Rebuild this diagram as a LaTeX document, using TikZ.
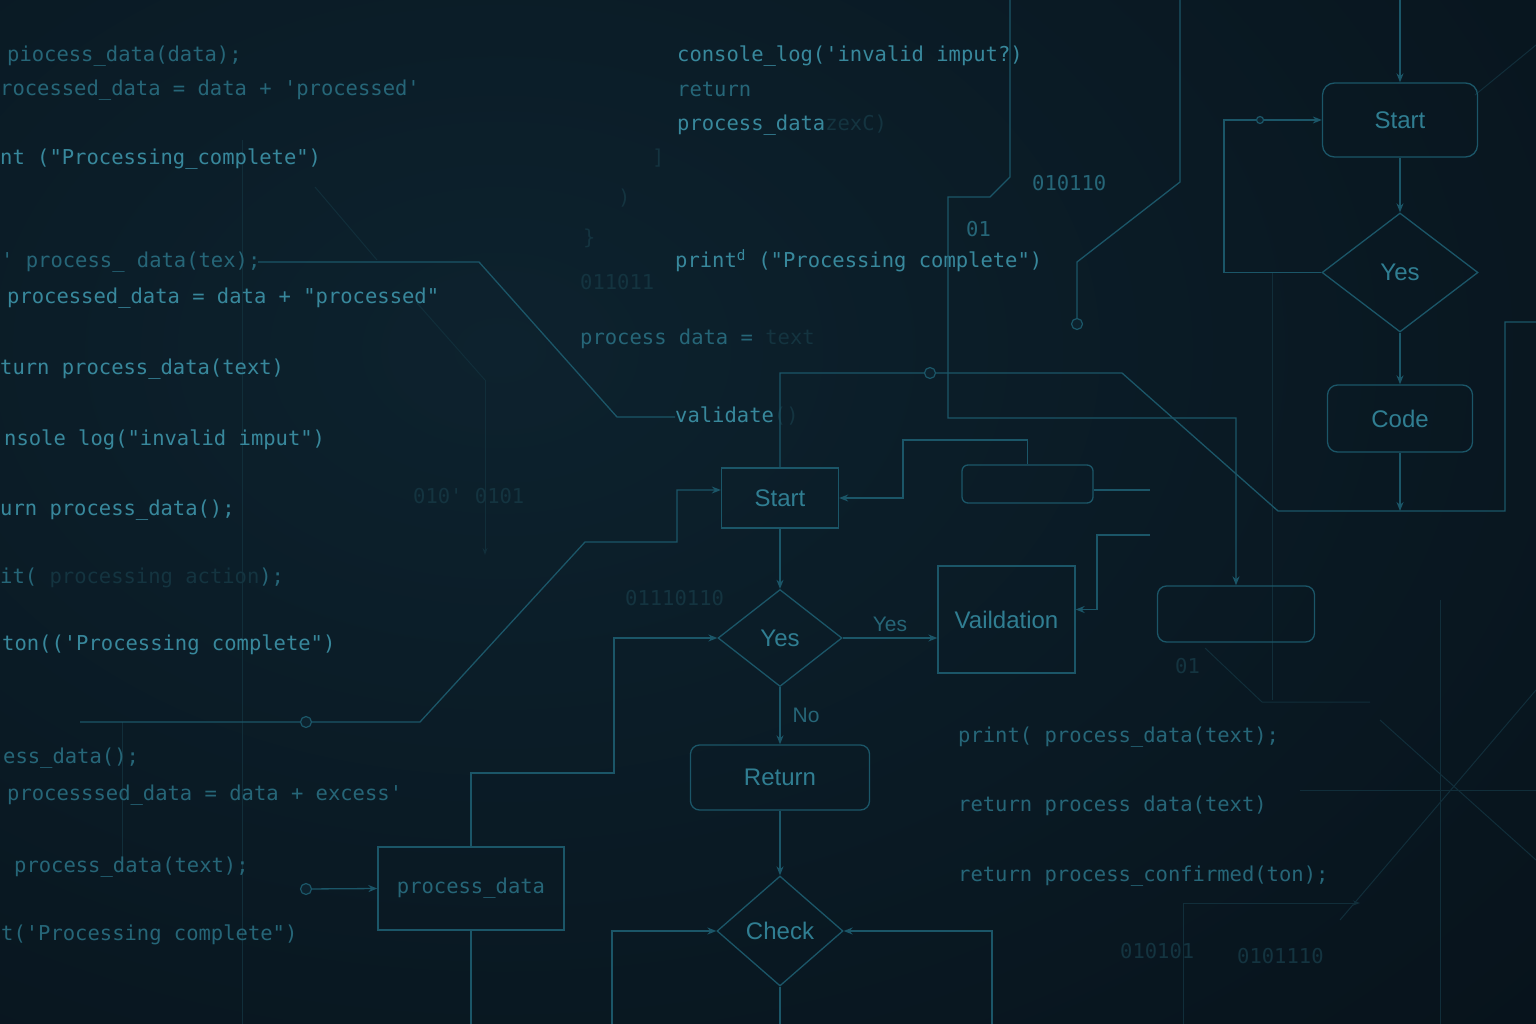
\documentclass[tikz,border=0pt]{standalone}
\usepackage{fontspec}
\setmonofont{DejaVu Sans Mono}
\newfontfamily\flowfont{Liberation Sans}
\usetikzlibrary{shapes.geometric, arrows.meta, positioning, calc}

\definecolor{bgmid}{RGB}{13,34,46}
\definecolor{bgmix}{RGB}{8,21,30}
\definecolor{bgedge}{RGB}{4,10,15}
\definecolor{wire}{RGB}{27,86,104}
\definecolor{wirefaint}{RGB}{17,46,58}
\definecolor{codehi}{RGB}{56,136,156}
\definecolor{codemid}{RGB}{38,102,120}
\definecolor{codelow}{RGB}{20,52,64}
\definecolor{flowtext}{RGB}{48,126,146}

\pgfdeclareradialshading{bgglow}{\pgfpoint{0bp}{0bp}}{color(0bp)=(bgmid); color(25bp)=(bgmix); color(50bp)=(bgedge)}

\newcommand\codesize{\fontsize{20.5}{24}\selectfont}
\newcommand\flowsize{\fontsize{24}{28}\selectfont}
\newcommand\lblsize{\fontsize{21}{24}\selectfont}

\tikzset{
  code/.style={anchor=west, inner sep=0pt, font=\ttfamily\codesize, text=codehi, text height=15pt, text depth=5pt},
  wireline/.style={draw=wire, line width=1.3pt},
  faint/.style={draw=wirefaint, line width=1pt},
  flow/.style={wireline, -{Stealth[length=9pt, width=7pt]}},
  box/.style={draw=wire, line width=1.3pt, text=flowtext, font=\flowfont\flowsize, inner sep=0pt},
  roundbox/.style={box, rounded corners=9pt},
  decision/.style={box, diamond, aspect=1.3},
  dot/.style={circle, draw=wire, line width=1.2pt, fill=bgmid, minimum size=11pt, inner sep=0pt},
  lbl/.style={text=codemid, font=\flowfont\lblsize, inner sep=4pt}
}

\begin{document}
\begin{tikzpicture}[x=1pt, y=-1pt]
  \useasboundingbox (0,0) rectangle (1536,1024);
  \clip (0,0) rectangle (1536,1024);
  \fill[bgedge] (0,0) rectangle (1536,1024);
  \shade[shading=bgglow] (-700,-500) rectangle (1700,1200);

  % faint wires in the back
  \draw[faint] (242,140) -- (242,1024);
  \draw[faint] (122,722) -- (122,860);
  \draw[faint] (315,187) -- (377,260);
  \draw[faint] (417,303) -- (485,380);
  \draw[faint, -{Stealth[length=7pt, width=5pt]}] (485,380) -- (485,555);
  \draw[faint] (1272,272) -- (1272,700);
  \draw[faint] (1205,648) -- (1262,702) -- (1370,702);
  \draw[faint] (1380,720) -- (1536,860);
  \draw[faint] (1536,690) -- (1340,920);
  \draw[faint] (1300,790) -- (1536,790);
  \draw[faint] (1440,600) -- (1440,1024);
  \draw[faint, -{Stealth[length=7pt, width=5pt]}] (1183,1024) -- (1183,903) -- (1360,903);
  \draw[faint] (1475,95) -- (1536,45);

  % code on the left
  \node[code, text=codemid] (l1) at (7,57) {piocess\_data(data);};
  \node[code, text=codemid] (l2) at (0,91) {rocessed\_data = data + 'processed'};
  \node[code] (l3) at (0,160) {nt ("Processing\_complete")};
  \node[code, text=codemid] (l4) at (1,263) {' process\_ data(tex);};
  \node[code] (l5) at (7,298) {processed\_data = data + "processed"};
  \node[code] (l6) at (0,369) {turn process\_data(text)};
  \node[code] (l7) at (4,440) {nsole log("invalid  imput")};
  \node[code] (l8) at (0,510) {urn  process\_data();};
  \node[code, text=codemid] (l9) at (0,578) {it( {\color{codelow}processing action});};
  \node[code] (l10) at (2,645) {ton(('Processing complete")};
  \node[code, text=codemid] (l11) at (3,758) {ess\_data();};
  \node[code, text=codemid] (l12) at (7,795) {processsed\_data = data + excess'};
  \node[code, text=codemid] (l13) at (14,867) {process\_data(text);};
  \node[code, text=codemid] (l14) at (1,935) {t('Processing  complete")};

  % code at the top
  \node[code] (m1) at (677,57) {console\_log('invalid imput?)};
  \node[code, text=codemid] (m2) at (677,92) {return};
  \node[code] (m3) at (677,126) {process\_data{\color{codelow}zexC)}};
  \node[code] (m4) at (675,263) {print\textsuperscript{d} ("Processing complete")};
  \node[code, text=codemid] (m5) at (580,339) {process data  = {\color{codelow}text}};
  \node[code] (vld) at (675,417) {validate{\color{codelow}()}};
  \node[code, text=codelow] (b1) at (652,160) {]};
  \node[code, text=codelow] (b2) at (618,200) {)};
  \node[code, text=codelow] (b3) at (583,240) {\}};

  % code at the bottom right
  \node[code, text=codemid] (r1) at (958,737) {print( process\_data(text);};
  \node[code, text=codemid] (r2) at (958,806) {return process data(text)};
  \node[code, text=codemid] (r3) at (958,876) {return process\_confirmed(ton);};

  % bits
  \node[code, text=codemid] (n1) at (1032,186) {010110};
  \node[code, text=codemid] (n2) at (966,232) {01};
  \node[code, text=codelow] (n3) at (580,285) {011011};
  \node[code, text=codelow] (n4) at (625,600) {01110110};
  \node[code, text=codelow] (n5) at (413,498) {010' 0101};
  \node[code, text=codelow] (n6) at (1120,953) {010101};
  \node[code, text=codelow] (n7) at (1237,958) {0101110};
  \node[code, text=codelow] (n8) at (1175,668) {01};

  % middle flowchart
  \node[box, minimum width=117pt, minimum height=60pt] (start) at (780,498) {Start};
  \node[decision, minimum width=124pt, minimum height=97pt] (ask) at (780,638) {Yes};
  \node[box, minimum width=137pt, minimum height=107pt] (valid) at (1006.5,619.5) {Vaildation};
  \node[roundbox, minimum width=179pt, minimum height=65pt] (ret) at (780,777.5) {Return};
  \node[decision, minimum width=126pt, minimum height=110pt] (check) at (780,931) {Check};
  \node[box, font=\ttfamily\codesize, text=codemid, minimum width=186pt, minimum height=83pt] (pdata) at (471,888.5) {process\_data};
  \node[roundbox, rounded corners=6pt, minimum width=131pt, minimum height=38pt] (blank1) at (1027.5,484) {};
  \node[roundbox, minimum width=157pt, minimum height=56pt] (blank2) at (1236,614) {};

  % right flowchart
  \node[roundbox, rounded corners=12pt, minimum width=155pt, minimum height=74pt] (rstart) at (1400,120) {Start};
  \node[decision, minimum width=156pt, minimum height=119pt] (rask) at (1400,272.5) {Yes};
  \node[roundbox, rounded corners=10pt, minimum width=145pt, minimum height=67pt] (code) at (1400,418.5) {Code};

  \node[dot] (d1) at (306,889) {};
  \node[dot] (d2) at (306,722) {};
  \node[dot] (d3) at (930,373) {};
  \node[dot] (d5) at (1077,324) {};
  \node[dot, minimum size=7pt] (d4) at (1260,120) {};

  \coordinate (w1) at (80,722);
  \coordinate (w2) at (258,262);
  \coordinate (cb) at (780,1030);
  \coordinate (cl) at (612,1030);
  \coordinate (cr) at (992,1030);
  \coordinate (pb) at (471,1030);
  \coordinate (rr) at (1540,322);
  \coordinate (cj) at (1400,511);
  \coordinate (rt) at (1400,-5);
  \coordinate (t1) at (1010,-5);
  \coordinate (t2) at (1180,-5);
  \coordinate (v1) at (1150,535);
  \coordinate (b1r) at (1150,490);

  \draw[flow] (start) -- (ask);
  \draw[flow] (ask.east) -- node[lbl, above=2pt] (yeslbl) {Yes} (ask.east -| valid.west);
  \draw[flow] (ask) -- node[lbl, right=8pt] (nolbl) {No} (ret);
  \draw[flow] (ret) -- (check);
  \draw[wireline] (check.south) -- (cb);
  \draw[flow] (cl) |- (check.west);
  \draw[flow] (cr) |- (check.east);
  \draw[flow] (pdata.north) |- (614,773) |- (ask.west);
  \draw[wireline] (pdata.south) -- (pb);
  \draw[flow] (d1) -- (pdata.west);
  \draw[flow] (w1) -- (d2) -- (420,722) -- (585,542) -- (677,542) |- ([yshift=8pt]start.west);
  \draw[wireline] (start.north) -- (780,373) -- (d3) -- (1122,373) -- (1278,511) -- (1505,511) -- (1505,322) -- (rr);
  \draw[wireline] (w2) -- (479,262) -- (617,417) -- (vld.west);
  \draw[flow] (blank1.north) |- (903,440) |- (start.east);
  \draw[wireline] ([yshift=-6pt]blank1.east) -- (b1r);
  \draw[flow] (v1) -- (1097,535) |- ([yshift=10pt]valid.east);
  \draw[flow] (t1) -- (1010,177) -- (990,197) -- (948,197) -- (948,418) -| (blank2.north);
  \draw[wireline] (t2) -- (1180,182) -- (1077,262) -- (d5);

  \draw[flow] (rt) -- (rstart);
  \draw[flow] (rstart) -- (rask);
  \draw[flow] (rask) -- (code);
  \draw[flow] (code) -- (cj);
  \draw[flow] (rask.west) -| (1224,120) -- (d4) -- (rstart.west);
\end{tikzpicture}
\end{document}
